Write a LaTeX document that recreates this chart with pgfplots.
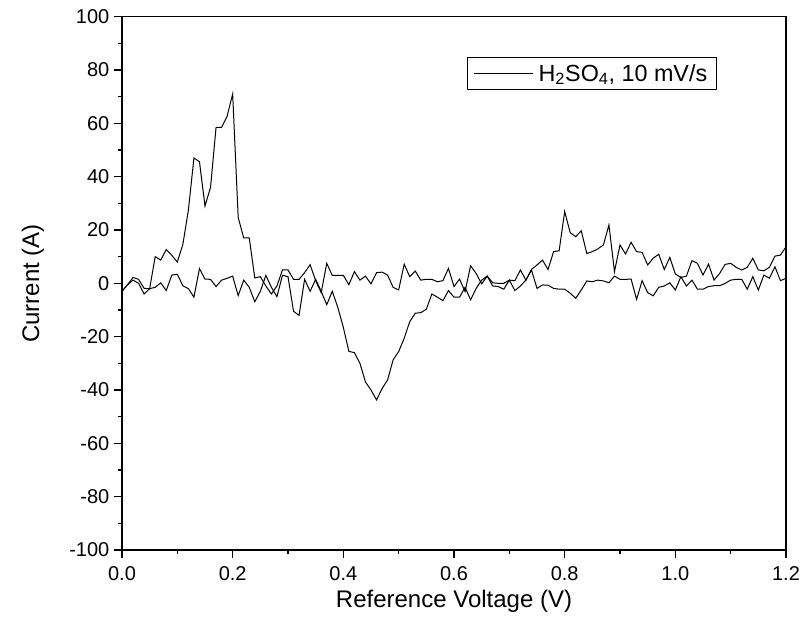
\documentclass[border=0pt]{standalone}
\usepackage{fontspec}
\setmainfont{Liberation Sans}
\usepackage{pgfplots}
\usepackage{pgfplotstable}
\pgfplotsset{compat=1.18}
\usetikzlibrary{calc}

% anodic branch (peak near 0.2 V)
\pgfplotstableread{
v i
0.00 -3
0.01 -0.5
0.02 2.2
0.03 1.5
0.04 -1.9
0.05 -2
0.06 10
0.07 8.7
0.08 12.7
0.09 10.5
0.10 8
0.11 14.6
0.12 27.5
0.13 47
0.14 45.6
0.15 29
0.16 36
0.17 58.5
0.18 58.5
0.19 62.7
0.20 71
0.21 24.7
0.22 17
0.23 17
0.24 2
0.25 2.5
0.26 -1
0.27 -4
0.28 -1
0.29 5
0.30 5
0.31 1.5
0.32 1.5
0.33 4
0.34 7
0.35 1
0.36 -3.5
0.37 7.5
0.38 3
0.39 3
0.40 3
0.41 -0.5
0.42 4.4
0.43 1.2
0.44 2.7
0.45 -0.2
0.46 4
0.47 4.2
0.48 3.1
0.49 -1.5
0.50 -2.5
0.51 7.2
0.52 2.5
0.53 4.6
0.54 1.2
0.55 1.5
0.56 1.5
0.57 0.6
0.58 1
0.59 5.6
0.60 -1.2
0.61 1.6
0.62 -3.1
0.63 6.6
0.64 3.7
0.65 -0.2
0.66 2.7
0.67 -1
0.68 -1.2
0.69 -2.2
0.70 1.2
0.71 -2.7
0.72 -1
0.73 1.2
0.74 5
0.75 -1.9
0.76 -0.6
0.77 -0.7
0.78 -1.9
0.79 -2.2
0.80 -2.2
0.81 -3.7
0.82 -5.6
0.83 -2.5
0.84 0.9
0.85 0.6
0.86 1.2
0.87 0.9
0.88 0.2
0.89 2.7
0.90 1.5
0.91 1.5
0.92 1.6
0.93 -6
0.94 1
0.95 -3.5
0.96 -4.7
0.97 -1.5
0.98 -1
0.99 0.2
1.00 -2.5
1.01 2.5
1.02 -1
1.03 1.2
1.04 -2.2
1.05 -2.2
1.06 -1.2
1.07 -0.9
1.08 -0.9
1.09 0
1.10 1.2
1.11 1.5
1.12 1.5
1.13 -2.2
1.14 2.5
1.15 -2.5
1.16 3.1
1.17 1.9
1.18 6.2
1.19 1
1.20 1.9
}\fwd

% second branch (dip near 0.46 V, peak near 0.8 V)
\pgfplotstableread{
v i
0.00 -3
0.01 -0.5
0.02 1.2
0.03 0
0.04 -4
0.05 -2
0.06 -1.5
0.07 0.2
0.08 -2.7
0.09 3.1
0.10 3.4
0.11 -0.9
0.12 -2
0.13 -5.2
0.14 5.5
0.15 1.6
0.16 1.5
0.17 -1.2
0.18 1.2
0.19 1.9
0.20 2.7
0.21 -4.6
0.22 1.2
0.23 -1.5
0.24 -6.9
0.25 -3
0.26 3
0.27 -1.5
0.28 -5
0.29 3
0.30 2.5
0.31 -10.5
0.32 -12
0.33 1.5
0.34 -3
0.35 1.5
0.36 -3
0.37 -8
0.38 -3
0.39 -9
0.40 -16.5
0.41 -25.5
0.42 -26
0.43 -30
0.44 -37
0.45 -40
0.46 -43.7
0.47 -39.5
0.48 -36.2
0.49 -28.7
0.50 -25.6
0.51 -20.6
0.52 -14.4
0.53 -11.2
0.54 -11
0.55 -9.7
0.56 -4
0.57 -5.2
0.58 -6.5
0.59 -2.7
0.60 -5.2
0.61 -5.2
0.62 -1.5
0.63 -6.2
0.64 -1.9
0.65 1.2
0.66 2.7
0.67 0.2
0.68 0
0.69 0
0.70 1.2
0.71 1
0.72 5
0.73 1.2
0.74 5.2
0.75 6.9
0.76 8.7
0.77 5.2
0.78 11.9
0.79 12.2
0.80 26.9
0.81 19
0.82 17.5
0.83 19.7
0.84 11.2
0.85 11.9
0.86 12.9
0.87 14.4
0.88 21.9
0.89 4.4
0.90 14.4
0.91 11
0.92 15.4
0.93 11.9
0.94 11.6
0.95 6.9
0.96 9.4
0.97 10.9
0.98 5.2
0.99 9.7
1.00 3.5
1.01 2.2
1.02 2.7
1.03 8.5
1.04 7.5
1.05 3.1
1.06 7.2
1.07 1.2
1.08 3.7
1.09 7.1
1.10 7.5
1.11 6
1.12 5
1.13 6
1.14 9.4
1.15 5
1.16 4.7
1.17 6
1.18 10.2
1.19 10.6
1.20 13.7
}\bwd

\begin{document}
\begin{tikzpicture}
\begin{axis}[
    name=cv,
    scale only axis,
    width=498pt,
    height=400pt,
    xmin=0, xmax=1.2,
    ymin=-100, ymax=100,
    xtick={0,0.2,0.4,0.6,0.8,1.0,1.2},
    ytick={-100,-80,-60,-40,-20,0,20,40,60,80,100},
    minor x tick num=1,
    minor y tick num=1,
    tick align=outside,
    xtick pos=bottom,
    ytick pos=left,
    major tick length=6pt,
    minor tick length=3pt,
    every tick/.style={black, line width=0.9pt},
    axis line style={black, line width=1pt},
    /pgf/number format/assume math mode=true,
    xticklabel style={yshift=-3pt, /pgf/number format/.cd, fixed, fixed zerofill, precision=1},
    tick label style={font=\fontsize{15}{18}\selectfont},
    label style={font=\fontsize{18}{21}\selectfont},
    xlabel={Reference Voltage (V)},
    ylabel={Current (A)},
    ylabel style={yshift=12pt},
    legend style={at={(0.896,0.924)}, anchor=north east, draw=black,
        line width=0.6pt, font=\fontsize{17.5}{21}\selectfont,
        inner xsep=5pt, inner ysep=3pt},
    legend cell align=left,
    legend image code/.code={\draw[#1, line width=0.75pt] (0pt,0pt) -- (44pt,0pt);},
]
\addplot[black, line width=0.75pt] table[x=v, y=i] {\fwd};
\addlegendentry{\hspace{2pt}H\textsubscript{2}SO\textsubscript{4}, 10 mV/s}
\addplot[black, line width=0.75pt, forget plot] table[x=v, y=i] {\bwd};
\end{axis}
% full frame over the axis box
\draw[black, line width=1pt] (cv.south west) rectangle (cv.north east);
\pgfresetboundingbox
\path[use as bounding box] ($(cv.south west)+(-91.5pt,-59.25pt)$) rectangle ($(cv.north east)+(10.5pt,12.5pt)$);
\end{tikzpicture}
\end{document}
